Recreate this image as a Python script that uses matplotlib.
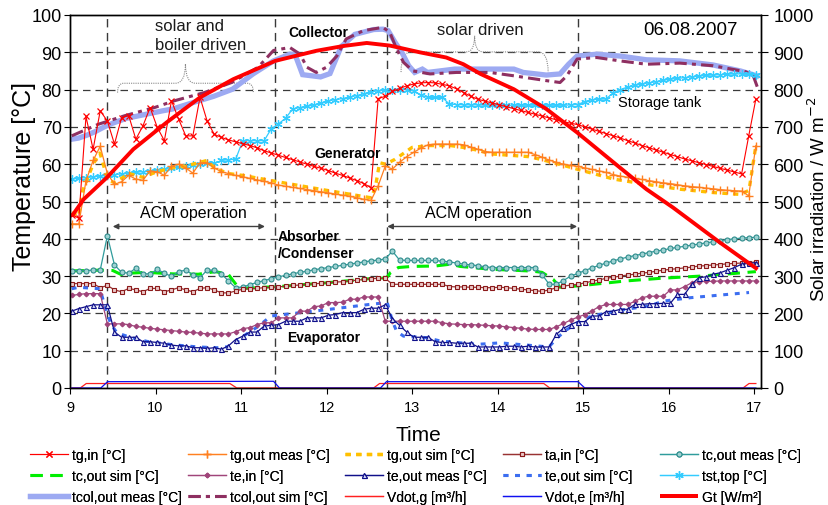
import numpy as np
import matplotlib
matplotlib.use("Agg")
import matplotlib.pyplot as plt
from matplotlib.path import Path
from matplotlib.patches import PathPatch

plt.rcParams['font.family'] = ['Liberation Sans', 'DejaVu Sans']

# ---------------- data ----------------
# 5-minute samples (h), first sample 9:01
minutes = np.arange(97) * 5 + 1.2
time = 9 + minutes / 60.0

tg_in = [46.5, 45.5, 72.8, 64.0, 74.3, 71.6, 65.4, 72.5, 73.0, 66.7,
         70.3, 75.2, 69.9, 66.3, 77.0, 72.1, 67.6, 67.6, 77.9, 71.6,
         68.0, 67.2, 66.5, 66.0, 65.5, 65.0, 64.4, 63.6, 63.0, 62.4,
         61.8, 61.2, 60.6, 60.0, 59.4, 58.9, 58.3, 57.6, 57.0, 56.3,
         55.6, 54.8, 53.7, 77.6, 78.2, 79.5, 80.3, 81.0, 81.5, 81.8,
         81.9, 81.8, 81.4, 81.0, 80.2, 79.2, 78.2, 77.4, 76.9, 76.4,
         75.9, 75.4, 74.9, 74.4, 73.9, 73.4, 72.9, 72.4, 71.9, 71.4,
         71.0, 70.6, 70.0, 69.4, 68.8, 68.2, 67.6, 67.0, 66.3, 65.7,
         65.0, 64.4, 63.8, 63.2, 62.6, 62.0, 61.4, 60.9, 60.4, 59.9,
         59.4, 58.9, 58.4, 57.9, 57.4, 67.6, 77.5]

tg_out_meas = [44.0, 44.0, 55.5, 61.0, 64.8, 57.5, 54.6, 55.3, 57.0, 56.0,
               55.7, 58.2, 58.0, 57.0, 59.5, 60.0, 59.0, 57.6, 60.4, 60.4,
               59.0, 58.0, 57.5, 57.0, 56.6, 56.2, 55.8, 55.4, 55.0, 54.4,
               54.1, 53.8, 53.5, 53.2, 52.9, 52.6, 52.3, 52.0, 51.7, 51.4,
               51.0, 50.6, 50.3, 54.2, 59.5, 58.7, 60.5, 62.0, 63.2, 64.3,
               65.2, 65.4, 65.4, 65.4, 65.4, 65.2, 64.6, 64.0, 63.4, 63.2,
               63.2, 63.2, 63.2, 63.2, 63.2, 62.6, 61.9, 61.1, 60.5, 60.0,
               59.7, 59.4, 59.0, 58.6, 58.2, 57.8, 57.2, 56.8, 56.5, 56.2,
               55.9, 55.6, 55.3, 55.0, 54.8, 54.5, 54.2, 54.0, 53.8, 53.6,
               53.4, 53.2, 53.0, 52.9, 52.8, 51.5, 65.0]

ta_in = [28.0, 28.0, 28.0, 28.0, 26.9, 27.5, 26.3, 25.8, 26.7, 26.3,
         25.8, 26.7, 26.7, 25.8, 26.3, 26.9, 26.3, 25.8, 26.7, 26.9,
         26.3, 25.5, 25.5, 26.0, 26.5, 26.6, 26.7, 26.9, 27.0, 27.1,
         27.3, 27.5, 27.6, 27.8, 27.9, 28.1, 28.2, 28.4, 28.5, 28.7,
         28.9, 29.1, 29.3, 29.4, 29.4, 27.8, 27.8, 27.8, 27.8, 27.8,
         27.8, 27.8, 27.8, 27.2, 27.1, 27.1, 27.0, 27.0, 26.9, 26.9,
         27.0, 26.9, 26.7, 26.5, 26.3, 26.1, 25.9, 26.3, 26.9, 27.3,
         27.6, 27.8, 28.2, 28.6, 29.0, 29.4, 29.7, 30.0, 30.3, 30.5,
         30.8, 31.0, 31.3, 31.6, 31.8, 32.0, 32.2, 32.4, 32.7, 32.8,
         33.0, 33.1, 33.3, 33.4, 33.5, 33.6, 33.8]

tc_out_meas = [31.4, 31.5, 31.5, 31.6, 31.6, 40.8, 33.0, 31.0, 30.8, 32.1,
               30.6, 30.6, 31.8, 30.8, 29.9, 31.2, 31.6, 30.4, 29.6, 31.6,
               31.6, 30.6, 28.7, 26.9, 27.1, 27.7, 28.3, 28.8, 29.3, 29.8,
               30.2, 30.6, 31.0, 31.3, 31.7, 32.0, 32.3, 32.6, 32.9, 33.2,
               33.5, 33.8, 34.1, 34.3, 34.6, 36.7, 34.3, 34.2, 34.2, 34.2,
               34.2, 34.2, 34.0, 33.8, 33.5, 33.2, 33.0, 32.8, 32.5, 32.3,
               32.3, 32.3, 32.3, 32.3, 32.3, 32.3, 30.4, 27.8, 27.8, 28.8,
               30.0, 30.7, 31.5, 32.2, 32.9, 33.5, 34.1, 34.6, 35.1, 35.5,
               35.9, 36.3, 36.7, 37.0, 37.4, 37.7, 38.0, 38.3, 38.6, 38.9,
               39.2, 39.5, 39.8, 40.0, 40.2, 40.3, 40.4]

te_in = [24.8, 25.1, 25.3, 25.3, 25.3, 17.2, 17.2, 17.2, 17.0, 16.5,
         16.3, 16.0, 15.8, 15.6, 15.4, 15.2, 15.0, 14.9, 14.7, 14.5,
         14.5, 14.5, 14.5, 15.1, 15.9, 16.2, 17.0, 17.5, 17.5, 18.8,
         18.8, 18.8, 20.6, 20.6, 21.8, 22.0, 22.9, 22.9, 23.0, 23.8,
         23.8, 24.4, 24.4, 24.4, 17.9, 17.9, 17.9, 17.9, 17.9, 17.9,
         17.9, 17.9, 17.5, 17.2, 17.1, 17.0, 17.0, 16.9, 16.8, 16.7,
         16.6, 16.4, 16.2, 16.0, 15.8, 15.7, 15.7, 15.7, 16.4, 17.3,
         18.2, 19.0, 19.7, 20.7, 21.8, 22.4, 22.4, 22.4, 22.4, 23.2,
         24.2, 24.6, 24.6, 24.6, 26.3, 26.3, 27.2, 28.2, 28.5, 28.6,
         28.6, 28.7, 28.7, 28.7, 28.7, 28.7, 28.7]

te_out_meas = [20.6, 21.3, 21.8, 22.3, 22.3, 22.3, 15.0, 13.6, 13.6, 13.6,
               12.4, 12.4, 12.2, 12.0, 11.5, 11.3, 11.3, 10.8, 10.8, 10.6,
               10.8, 10.4, 11.3, 13.0, 13.9, 15.0, 15.0, 16.6, 16.8, 17.0,
               17.9, 17.9, 17.9, 18.8, 18.8, 18.8, 19.5, 19.7, 20.2, 20.2,
               20.2, 21.1, 21.4, 21.4, 22.3, 18.6, 16.8, 15.0, 13.6, 13.6,
               13.6, 12.4, 12.2, 12.2, 12.0, 12.0, 12.0, 11.0, 11.0, 11.0,
               11.0, 11.2, 11.2, 11.0, 11.2, 11.0, 11.0, 11.0, 14.4, 16.0,
               17.0, 17.8, 17.8, 19.3, 19.3, 20.5, 20.6, 21.1, 21.1, 22.4,
               22.4, 22.6, 22.6, 22.7, 22.7, 25.1, 25.1, 27.8, 29.6, 29.8,
               30.5, 30.9, 31.6, 32.3, 33.2, 33.4, 33.6]

tst_top = [56.0, 56.2, 56.4, 56.6, 56.8, 57.0, 57.2, 57.4, 57.6, 57.8,
           58.0, 58.2, 58.4, 58.6, 58.9, 59.2, 59.5, 59.8, 60.0, 60.4,
           60.2, 61.0, 61.2, 61.3, 66.3, 66.3, 66.3, 66.3, 69.5, 70.8,
           72.3, 74.8, 75.2, 75.5, 75.9, 76.4, 77.0, 77.3, 77.6, 78.0,
           78.4, 78.9, 79.4, 79.7, 79.8, 80.0, 80.0, 80.0, 79.7, 78.5,
           77.9, 77.9, 77.9, 76.1, 76.0, 75.9, 75.9, 75.9, 75.8, 75.8,
           75.8, 75.8, 75.8, 75.8, 75.8, 75.8, 75.8, 75.8, 75.8, 75.8,
           75.9, 76.0, 76.8, 77.3, 77.4, 77.5, 79.2, 80.0, 80.7, 81.1,
           81.5, 81.8, 82.1, 82.5, 82.8, 83.0, 83.2, 83.4, 83.6, 83.8,
           83.9, 84.0, 84.1, 84.2, 84.2, 84.1, 83.9]

tg_sim_time = [9.02, 9.10, 9.15, 9.27, 9.35, 9.44, 9.52, 9.69, 9.85, 10.02,
               10.19, 10.35, 10.52, 10.60, 10.69, 10.85, 11.02, 11.5, 12.0, 12.52,
               12.57, 12.62, 12.69, 12.8, 13.0, 13.2, 13.45, 13.6, 13.8, 13.9,
               14.38, 14.57, 14.8, 14.94, 15.36, 15.74, 16.13, 16.52, 16.84, 16.94,
               17.02]
tg_out_sim = [47, 46, 53, 60, 63, 56, 55, 57.5, 56.5, 58,
              59, 59.5, 60.5, 61, 59, 57.5, 57, 55, 53, 51,
              53.7, 60.4, 60, 61.3, 64.5, 65, 65, 64.5, 63.6, 62.8,
              62, 60.9, 59.5, 58.6, 56, 54.6, 53.3, 52.4, 51.9, 53,
              65]

tc_sim_time = [9.02, 9.35, 9.5, 9.6, 9.7, 9.9, 10.2, 10.5, 10.7, 10.85,
               10.95, 11.02, 11.5, 12.0, 12.5, 12.7, 12.75, 12.84, 13.0, 13.27,
               13.45, 13.56, 13.7, 13.95, 14.26, 14.42, 14.52, 14.65, 14.73, 15.0,
               15.5, 15.9, 16.37, 16.76, 17.02]
tc_out_sim = [31.4, 31.6, 31.5, 30.4, 30.8, 31.0, 30.6, 30.5, 31.2, 30.5,
              27.5, 26.7, 27.3, 28.2, 29.3, 29.5, 31.0, 32.3, 32.6, 32.7,
              33.2, 32.6, 32.3, 31.8, 31.5, 31.3, 31.0, 29.1, 27.0, 27.5,
              28.7, 29.4, 30.0, 30.7, 31.2]

te_sim_time = [9.02, 9.10, 9.35, 9.42, 9.48, 9.55, 9.7, 9.9, 10.2, 10.5,
               10.72, 10.91, 11.0, 11.2, 11.35, 12.0, 12.5, 12.71, 12.77, 12.82,
               12.9, 13.17, 13.33, 13.76, 14.03, 14.5, 14.6, 14.7, 14.8, 14.94,
               15.1, 15.5, 15.77, 15.94, 16.25, 16.94]
te_out_sim = [26.6, 27.0, 26.6, 21.0, 17.0, 14.8, 13.6, 12.5, 11.6, 11.0,
              10.8, 11.2, 13.5, 16.5, 19.3, 21.0, 22.4, 22.9, 17.9, 15.2,
              13.9, 13.5, 12.6, 11.7, 12.1, 11.2, 11.0, 13.5, 15.5, 17.6,
              19.3, 21.1, 22.0, 23.3, 24.2, 25.6]

tcol_meas_time = [9.02, 9.10, 9.2, 9.3, 9.4, 9.5, 9.66, 9.85, 10.08, 10.2,
                  10.45, 10.68, 10.9, 11.14, 11.38, 11.57, 11.63, 11.72, 11.93, 12.04,
                  12.17, 12.33, 12.55, 12.66, 12.72, 12.80, 12.88, 12.96, 13.03, 13.12,
                  13.18, 13.5, 14.19, 14.3, 14.57, 14.73, 14.83, 14.93, 15.16, 15.43,
                  15.74, 16.13, 16.52, 16.84, 17.03]
tcol_out_meas = [66.7, 67.0, 67.8, 68.8, 70.0, 71.0, 72.3, 73.2, 74.3, 74.8,
                 76.6, 78.2, 80.1, 84.2, 87.7, 89.5, 89.5, 84.0, 83.4, 84.3,
                 91.5, 94.8, 96.1, 96.2, 95.8, 92.7, 90.0, 86.4, 84.6, 85.5,
                 84.6, 85.5, 85.5, 84.6, 83.9, 84.2, 86.8, 89.0, 89.5, 89.0,
                 88.0, 87.7, 86.6, 85.0, 83.7]

tcol_sim_time = [9.02, 9.33, 9.64, 9.99, 10.22, 10.57, 10.89, 11.2, 11.38, 11.57,
                 11.69, 11.77, 11.88, 12.0, 12.12, 12.23, 12.43, 12.66, 12.74, 12.82,
                 12.9, 13.01, 13.21, 13.52, 13.91, 14.19, 14.57, 14.73, 14.81, 14.93,
                 15.16, 15.43, 15.74, 16.13, 16.52, 16.9, 16.99, 17.04]
tcol_out_sim = [67.6, 70.7, 73.0, 75.2, 77.0, 79.2, 81.9, 86.0, 90.5, 91.3,
                89.5, 86.0, 84.6, 86.0, 89.0, 93.6, 95.8, 96.7, 95.3, 90.9,
                87.3, 85.0, 84.2, 84.6, 84.6, 83.7, 82.4, 81.9, 83.7, 88.2,
                88.6, 87.7, 86.8, 87.1, 86.4, 84.8, 83.7, 80.5]

vg_time = [9.02, 9.12, 9.19, 10.87, 10.95, 12.55, 12.62, 14.54, 14.61, 16.87, 16.94, 17.02]
vdot_g = [0, 0, 1.2, 1.2, 0, 0, 1.2, 1.2, 0, 0, 1.2, 1.2]
ve_time = [9.02, 9.36, 9.44, 11.38, 11.45, 12.63, 12.70, 14.94, 15.02, 17.02]
vdot_e = [0, 0, 1.7, 1.8, 0, 0, 1.7, 1.7, 0, 0]

gt_time = [9.02, 9.16, 9.43, 9.74, 10.13, 10.52, 10.91, 11.4, 11.88, 12.2,
           12.47, 12.74, 13.09, 13.4, 13.6, 13.8, 14.19, 14.57, 14.93, 15.36,
           15.74, 16.05, 16.6, 17.04]
gt = [460, 506, 564, 640, 712, 779, 828, 877, 904, 917,
      925, 918, 900, 886, 868, 842, 801, 748, 685, 604,
      533, 484, 390, 318]

event_times = [9.43, 11.40, 12.71, 14.94]

# ---------------- figure ----------------
W, H = 829, 506
fig = plt.figure(figsize=(W / 100, H / 100), dpi=100)
ax = fig.add_axes([70 / W, 1 - 389 / H, (761 - 70) / W, (389 - 16) / H])
ax.set_xlim(9, 17.08)
ax.set_ylim(0, 100)

grid_ls = (0, (6, 4))
for y in range(10, 100, 10):
    ax.axhline(y, color='#3a3a3a', lw=0.9, ls=grid_ls, zorder=0.5)
for t in event_times:
    ax.axvline(t, color='#3a3a3a', lw=1.0, ls=grid_ls, zorder=0.6)

h = {}
h['tcol_m'], = ax.plot(tcol_meas_time, tcol_out_meas, color='#9DAAF2', lw=3.8,
                      solid_joinstyle='miter', label='tcol,out meas [°C]', zorder=2)
h['tcol_s'], = ax.plot(tcol_sim_time, tcol_out_sim, color='#8E2F61', lw=2.2,
                      ls=(0, (4, 1.7, 1.3, 1.7)), label='tcol,out sim [°C]', zorder=2.1)
h['tst'], = ax.plot(time, tst_top, color='#33CCFF', lw=0.9, marker=(6, 2, 0), ms=6,
                   mew=0.9, label='tst,top [°C]', zorder=2.2)
h['tg_s'], = ax.plot(tg_sim_time, tg_out_sim, color='#FFC000', lw=2.4,
                    ls=(0, (1.6, 1.6)), label='tg,out sim [°C]', zorder=2.3)
h['tg_om'], = ax.plot(time, tg_out_meas, color='#FF8020', lw=0.9, marker='+', ms=6,
                     mew=1.0, label='tg,out meas [°C]', zorder=2.4)
h['tg_in'], = ax.plot(time, tg_in, color='#FF0000', lw=0.8, marker='x', ms=4.5,
                     mew=0.9, label='tg,in [°C]', zorder=2.5)
h['tc_s'], = ax.plot(tc_sim_time, tc_out_sim, color='#00EE00', lw=2.2,
                    ls=(0, (4, 2.5)), label='tc,out sim [°C]', zorder=2.6)
h['tc_m'], = ax.plot(time, tc_out_meas, color='#2F9C9C', lw=0.9, marker='o', ms=3.6,
                    mfc='#9FD3D3', mec='#2F8C8C', mew=0.8, label='tc,out meas [°C]', zorder=2.7)
h['ta'], = ax.plot(time, ta_in, color='#993333', lw=0.9, marker='s', ms=3.4,
                  mfc='#EBC8C8', mec='#8B1A1A', mew=0.8, label='ta,in [°C]', zorder=2.8)
h['te_s'], = ax.plot(te_sim_time, te_out_sim, color='#3C6EF0', lw=2.2,
                    ls=(0, (1.6, 2.2)), label='te,out sim [°C]', zorder=2.9)
h['te_in'], = ax.plot(time, te_in, color='#A0457A', lw=0.9, marker='D', ms=2.3,
                     label='te,in [°C]', zorder=3.0)
h['te_om'], = ax.plot(time, te_out_meas, color='#10108A', lw=0.9, marker='^', ms=3.6,
                     mfc='#D8DCF8', mec='#10108A', mew=0.8, label='te,out meas [°C]', zorder=3.1)
h['vg'], = ax.plot(vg_time, vdot_g, color='#FF2020', lw=0.9, label='Vdot,g [m³/h]',
                  zorder=3.2, clip_on=False)
h['ve'], = ax.plot(ve_time, vdot_e, color='#1010F0', lw=0.9, label='Vdot,e [m³/h]',
                  zorder=3.3, clip_on=False)

ax2 = ax.twinx()
ax2.set_ylim(0, 1000)
h['gt'], = ax2.plot(gt_time, gt, color='#FF0000', lw=2.8, label='Gt [W/m²]',
                   solid_capstyle='butt')

# ticks
ax.set_xticks(range(9, 18))
ax.set_yticks(range(0, 101, 10))
ax2.set_yticks(range(0, 1001, 100))
ax.tick_params(axis='y', labelsize=13, direction='out', length=4, pad=2)
ax.tick_params(axis='x', labelsize=10.5, direction='out', length=4, pad=5)
ax2.tick_params(axis='y', labelsize=13, direction='out', length=5, pad=4)
for a in (ax, ax2):
    for s in a.spines.values():
        s.set_linewidth(1.0)
        s.set_color('black')

fig.text(24 / W, 1 - 177 / H, 'Temperature [°C]', rotation=90, ha='center',
         va='center', fontsize=18)
fig.text(818 / W, 1 - 199 / H, 'Solar irradiation / W m$^{-2}$', rotation=90,
         ha='center', va='center', fontsize=13.5)
fig.text(418 / W, 1 - 436 / H, 'Time', ha='center', va='center', fontsize=15)

# ---------------- annotations ----------------
def brace(a, x0, x1, y_end, y_bar, y_tip, r_end, r_tip):
    xm = 0.5 * (x0 + x1)
    verts = [(x0, y_end), (x0, y_bar), (x0 + r_end, y_bar),
             (xm - r_tip, y_bar), (xm, y_bar), (xm, y_tip),
             (xm, y_bar), (xm + r_tip, y_bar),
             (x1 - r_end, y_bar), (x1, y_bar), (x1, y_end)]
    codes = [Path.MOVETO, Path.CURVE3, Path.CURVE3,
             Path.LINETO, Path.CURVE3, Path.CURVE3,
             Path.CURVE3, Path.CURVE3,
             Path.LINETO, Path.CURVE3, Path.CURVE3]
    a.add_patch(PathPatch(Path(verts, codes), fill=False, ec='#8a8a8a', lw=0.8,
                          ls=(0, (1, 1)), zorder=1.5))

brace(ax, 9.556, 11.144, 79.2, 81.7, 86.9, 0.07, 0.12)
brace(ax, 12.871, 14.591, 84.7, 90.1, 94.4, 0.12, 0.10)

txt = dict(fontsize=12, ha='center', va='center', color='#1a1a1a', zorder=5)
ax.text(10.40, 97.3, 'solar and', **txt)
ax.text(10.53, 92.2, 'boiler driven', **txt)
ax.text(13.80, 96.2, 'solar driven', **txt)
ax.text(16.25, 96.0, '06.08.2007', fontsize=13.5, ha='center', va='center', zorder=5)
ax.text(15.89, 76.6, 'Storage tank', fontsize=10.5, ha='center', va='center', zorder=5)

bold = dict(fontsize=10, fontweight='bold', va='center', zorder=5)
ax.text(11.90, 95.4, 'Collector', ha='center', **bold)
ax.text(12.25, 63.0, 'Generator', ha='center', **bold)
ax.text(11.43, 40.7, 'Absorber', ha='left', **bold)
ax.text(11.43, 36.3, '/Condenser', ha='left', **bold)
ax.text(11.97, 13.6, 'Evaporator', ha='center', **bold)

ax.text(10.44, 47.1, 'ACM operation', fontsize=11.5, ha='center', va='center', zorder=5)
ax.text(13.77, 47.1, 'ACM operation', fontsize=11.5, ha='center', va='center', zorder=5)
arrow = dict(arrowstyle='<|-|>', color='#404040', lw=1.0, mutation_scale=8,
             shrinkA=0, shrinkB=0)
ax.annotate('', xy=(9.50, 43.3), xytext=(11.28, 43.3), arrowprops=arrow, zorder=5)
ax.annotate('', xy=(12.71, 43.3), xytext=(14.93, 43.3), arrowprops=arrow, zorder=5)

# ---------------- legend (5 fixed-grid columns) ----------------
columns = [['tg_in', 'tc_s', 'tcol_m'],
           ['tg_om', 'te_in', 'tcol_s'],
           ['tg_s', 'te_om', 'vg'],
           ['ta', 'te_s', 've'],
           ['tc_m', 'tst', 'gt']]
col_x = [30, 188, 345, 503, 660]
for keys, x0 in zip(columns, col_x):
    hs = [h[k] for k in keys]
    leg = fig.legend(hs, [x.get_label() for x in hs], loc='upper left',
                     bbox_to_anchor=(x0 / W, 1 - 449 / H), ncol=1, frameon=False,
                     fontsize=10, handlelength=2.75, handletextpad=0.3,
                     labelspacing=0.5, borderaxespad=0, borderpad=0)
    fig.add_artist(leg)

fig.savefig('out.png', dpi=100)
